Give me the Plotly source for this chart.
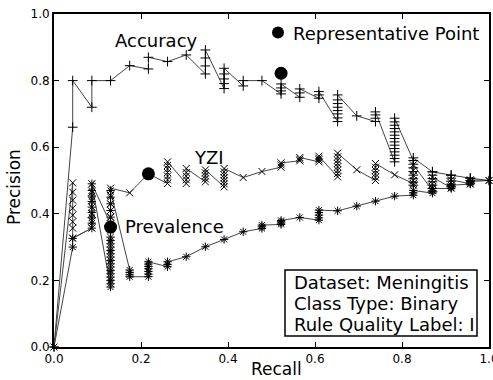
import plotly.graph_objects as go

recall_levels = [0.000, 0.043, 0.087, 0.130, 0.174, 0.217, 0.261, 0.304, 0.348, 0.391, 0.435, 0.478,
                 0.522, 0.565, 0.609, 0.652, 0.696, 0.739, 0.783, 0.826, 0.870, 0.913, 0.957, 1.000]

accuracy_cols = [
    [0.0],
    [0.66, 0.80],
    [0.72, 0.80],
    [0.80],
    [0.845],
    [0.835, 0.87],
    [0.857],
    [0.877],
    [0.82, 0.844, 0.868, 0.892],
    [0.776, 0.791, 0.805, 0.82, 0.837],
    [0.784, 0.80],
    [0.80],
    [0.76, 0.769, 0.778, 0.79],
    [0.75, 0.763, 0.775],
    [0.747, 0.757, 0.767],
    [0.677, 0.688, 0.70, 0.71, 0.72, 0.731, 0.742, 0.757],
    [0.694],
    [0.677, 0.687, 0.697, 0.706],
    [0.556, 0.566, 0.576, 0.586, 0.596, 0.606, 0.616, 0.626, 0.636, 0.646, 0.656, 0.666, 0.676, 0.687],
    [0.560, 0.549, 0.538, 0.527, 0.516, 0.505, 0.495, 0.486, 0.568],
    [0.526, 0.516, 0.506, 0.496, 0.486, 0.476, 0.466, 0.526],
    [0.516, 0.507, 0.498, 0.489, 0.481, 0.516],
    [0.507, 0.500, 0.492, 0.507],
    [0.50],
]

yzi_cols = [
    [0.0],
    [0.493, 0.465, 0.441, 0.417, 0.396, 0.376, 0.357, 0.327],
    [0.357, 0.378, 0.40, 0.42, 0.44, 0.465, 0.49],
    [0.37, 0.39, 0.41, 0.43, 0.455, 0.477],
    [0.463],
    [0.52],
    [0.491, 0.502, 0.513, 0.524, 0.535, 0.545, 0.556],
    [0.491, 0.502, 0.513, 0.524, 0.536],
    [0.496, 0.505, 0.514, 0.523, 0.532],
    [0.481, 0.49, 0.499, 0.508, 0.517, 0.526, 0.536],
    [0.509],
    [0.527],
    [0.54, 0.547, 0.553],
    [0.559, 0.564, 0.569],
    [0.556, 0.562, 0.567, 0.573],
    [0.511, 0.521, 0.531, 0.541, 0.551, 0.561, 0.571, 0.582],
    [0.532],
    [0.50, 0.51, 0.52, 0.53, 0.54, 0.551],
    [0.517],
    [0.491, 0.486, 0.50, 0.515, 0.53, 0.547],
    [0.47, 0.48, 0.49, 0.50, 0.51],
    [0.478, 0.486, 0.494, 0.502],
    [0.49, 0.496, 0.502],
    [0.50],
]

prevalence_cols = [
    [0.0],
    [0.30, 0.326],
    [0.357, 0.372, 0.388, 0.404, 0.42, 0.437, 0.453, 0.47, 0.49],
    [0.18, 0.19, 0.20, 0.21, 0.22, 0.23, 0.24, 0.25, 0.26, 0.27, 0.28, 0.29, 0.30, 0.31, 0.32,
     0.33, 0.35, 0.37, 0.39, 0.41, 0.43, 0.45, 0.47],
    [0.231, 0.224, 0.217, 0.211],
    [0.211, 0.219, 0.227, 0.235, 0.242, 0.249, 0.256],
    [0.241, 0.248, 0.256],
    [0.271],
    [0.301],
    [0.323],
    [0.346],
    [0.356, 0.361, 0.366],
    [0.368, 0.372, 0.376, 0.38],
    [0.389],
    [0.381, 0.388, 0.396, 0.404, 0.411],
    [0.409],
    [0.423],
    [0.438],
    [0.453],
    [0.456, 0.463, 0.47],
    [0.462, 0.469, 0.476],
    [0.476, 0.481, 0.486],
    [0.489, 0.493, 0.497],
    [0.50],
]

rep_recall = [0.522, 0.217, 0.130]
rep_precision = [0.822, 0.520, 0.360]

series_names = ["Accuracy", "YZI", "Prevalence"]
x_ticks = [0.0, 0.2, 0.4, 0.6, 0.8, 1.0]
y_ticks = [0.0, 0.2, 0.4, 0.6, 0.8, 1.0]
info_lines = ["Dataset: Meningitis", "Class Type: Binary", "Rule Quality Label: I"]


def flatten(cols):
    xs, ys = [], []
    for r, col in zip(recall_levels, cols):
        for p in col:
            xs.append(r)
            ys.append(p)
    return xs, ys


FONT = "DejaVu Sans"
fig = go.Figure()

symbols = ["cross-thin-open", "x-thin-open", "asterisk-open"]
for name, cols, sym in zip(series_names, [accuracy_cols, yzi_cols, prevalence_cols], symbols):
    xs, ys = flatten(cols)
    fig.add_trace(go.Scatter(
        x=xs, y=ys, mode="lines+markers", name=name, showlegend=False, cliponaxis=False,
        line=dict(color="#444444", width=1),
        marker=dict(symbol=sym, size=7, color="black", line=dict(color="black", width=1)),
    ))

fig.add_trace(go.Scatter(
    x=rep_recall, y=rep_precision, mode="markers", name="Representative Point",
    showlegend=False, marker=dict(symbol="circle", size=13, color="black"),
))

W, H = 493, 380
L, R, T, B = 54, 4, 14, 33
pw, ph = W - L - R, H - T - B


def px(x):
    return (x - L) / pw


def py(y):
    return (H - B - y) / ph


annotations = []
annotations.append(dict(x=px(156), y=py(40), text="Accuracy"))
annotations.append(dict(x=px(209), y=py(157), text="YZI"))
annotations.append(dict(x=px(174), y=py(226), text="Prevalence"))
annotations = [dict(a, xref="paper", yref="paper", showarrow=False, xanchor="center", yanchor="middle",
                    font=dict(family=FONT, size=18, color="black")) for a in annotations]
annotations.append(dict(x=px(291), y=py(33), xref="paper", yref="paper", showarrow=False,
                        xanchor="left", yanchor="middle", text="Representative Point",
                        font=dict(family=FONT, size=18, color="black")))
for txt, yy in zip(info_lines, [282, 303, 324]):
    annotations.append(dict(x=px(292), y=py(yy), xref="paper", yref="paper", showarrow=False,
                            xanchor="left", yanchor="middle", text=txt,
                            font=dict(family=FONT, size=18, color="black")))
annotations.append(dict(x=px(276), y=py(369), xref="paper", yref="paper", showarrow=False,
                        xanchor="center", yanchor="middle", text="Recall",
                        font=dict(family=FONT, size=17, color="black")))
annotations.append(dict(x=px(14), y=py(187), xref="paper", yref="paper", showarrow=False,
                        xanchor="center", yanchor="middle", text="Precision", textangle=-90,
                        font=dict(family=FONT, size=17, color="black")))

shapes = [
    dict(type="rect", xref="paper", yref="paper", x0=px(285), x1=px(477), y0=py(336), y1=py(270),
         line=dict(color="black", width=1.5), fillcolor="white", layer="below"),
    dict(type="circle", xref="paper", yref="paper", x0=px(272), x1=px(284), y0=py(38.5), y1=py(26.5),
         line=dict(color="black", width=0), fillcolor="black"),
]

axis_common = dict(
    showgrid=False, zeroline=False, showline=True, linecolor="black", linewidth=2,
    mirror="ticks", ticks="inside", ticklen=5, tickwidth=1, tickcolor="black",
    range=[0, 1], tickformat=".1f", automargin=False, ticklabeloverflow="allow",
    tickfont=dict(family=FONT, size=12, color="black"),
)

fig.update_layout(
    width=W, height=H,
    margin=dict(l=L, r=R, t=T, b=B),
    paper_bgcolor="white", plot_bgcolor="white",
    xaxis=dict(axis_common, tickvals=x_ticks),
    yaxis=dict(axis_common, tickvals=y_ticks),
    annotations=annotations,
    shapes=shapes,
    showlegend=False,
)

fig.write_html("out.html", config={"displayModeBar": False},
               post_script="document.body.style.margin='0';document.body.style.overflow='hidden';")
